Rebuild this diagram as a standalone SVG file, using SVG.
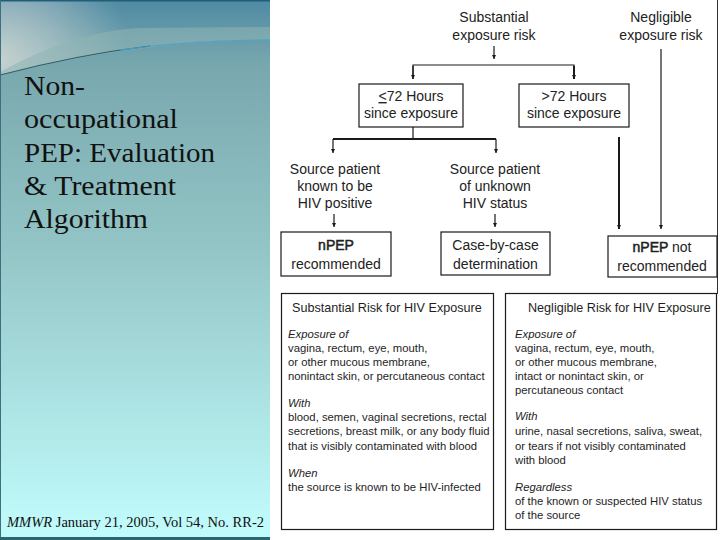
<svg xmlns="http://www.w3.org/2000/svg" width="720" height="540" viewBox="0 0 720 540">
<defs>
<linearGradient id="bg" x1="0" y1="0" x2="0" y2="1">
<stop offset="0" stop-color="#4f8aa3"/>
<stop offset="0.12" stop-color="#78a8ae"/>
<stop offset="0.45" stop-color="#93c4c5"/>
<stop offset="1" stop-color="#c2fdfd"/>
</linearGradient>
<radialGradient id="glow" cx="0" cy="60" r="130" gradientUnits="userSpaceOnUse">
<stop offset="0" stop-color="#d8dcd8" stop-opacity="0.8"/>
<stop offset="1" stop-color="#d8dcd8" stop-opacity="0"/>
</radialGradient>
<marker id="ah" viewBox="0 0 6 6" refX="6" refY="3" markerWidth="4" markerHeight="5" markerUnits="userSpaceOnUse" orient="auto">
<path d="M0,0 L6,3 L0,6 z" fill="#1a1a1a"/>
</marker>
<style>
.t{font-family:"Liberation Sans",Arial,sans-serif;font-size:14px;fill:#222;text-anchor:middle}
.s{font-family:"Liberation Sans",Arial,sans-serif;font-size:11.3px;fill:#1e1e1e}
.h{font-family:"Liberation Sans",Arial,sans-serif;font-size:12.6px;fill:#1e1e1e}
.i{font-style:italic}
.b{stroke:#222;stroke-width:0.5}
.box{fill:#fff;stroke:#1a1a1a;stroke-width:1.2}
.ln{stroke:#1a1a1a;stroke-width:1.2;fill:none}
.thk{stroke-width:2}
.ttl{font-family:"Liberation Serif","Times New Roman",serif;font-size:27px;fill:#111}
.ft{font-family:"Liberation Serif","Times New Roman",serif;font-size:14px;fill:#111}
</style>
</defs>

<!-- left panel -->
<g id="panel">
<rect x="0" y="0" width="270" height="540" fill="url(#bg)"/>
<path d="M0,0 H270 V40 C150,42 70,58 0,75 Z" fill="url(#glow)"/>
<path d="M0,72 C40,50 90,30 140,28 L270,27 L270,40 C150,42 70,58 0,75 Z" fill="#8fb4b4" opacity="0.55"/>
<path d="M0,75 C50,62 100,52 150,46" fill="none" stroke="#1f4a58" stroke-width="1.2" opacity="0.85"/>
<path d="M120,50 C170,43 220,40 270,40" fill="none" stroke="#4aa3c8" stroke-width="1.3" opacity="0.9"/>
<rect x="0" y="0" width="270" height="1.5" fill="#215f78"/>
<rect x="0" y="0" width="1" height="540" fill="#3a7080"/>
<rect x="0" y="537" width="270" height="3" fill="#2e6670"/>
<text class="ttl" x="24" y="95" textLength="61" lengthAdjust="spacingAndGlyphs">Non-</text>
<text class="ttl" x="24" y="128" textLength="154" lengthAdjust="spacingAndGlyphs">occupational</text>
<text class="ttl" x="24" y="162" textLength="191" lengthAdjust="spacingAndGlyphs">PEP: Evaluation</text>
<text class="ttl" x="24" y="195" textLength="152" lengthAdjust="spacingAndGlyphs">&amp; Treatment</text>
<text class="ttl" x="24" y="228" textLength="124" lengthAdjust="spacingAndGlyphs">Algorithm</text>
<text class="ft" x="7" y="527" textLength="257" lengthAdjust="spacingAndGlyphs"><tspan class="i">MMWR</tspan> January 21, 2005, Vol 54, No. RR-2</text>
</g>

<line x1="717.5" y1="0" x2="717.5" y2="294" stroke="#333" stroke-width="1"/>

<!-- connectors -->
<g id="connectors">
<line class="ln" x1="494" y1="46" x2="494" y2="59" marker-end="url(#ah)"/>
<polyline class="ln" points="413,79 413,65 574,65 574,79"/>
<line class="ln" x1="413" y1="66" x2="413" y2="79" marker-end="url(#ah)"/>
<line class="ln thk" x1="574" y1="66" x2="574" y2="79" marker-end="url(#ah)"/>
<line class="ln" x1="413" y1="127" x2="413" y2="139"/>
<line class="ln thk" x1="333" y1="139" x2="496" y2="139"/>
<line class="ln" x1="333" y1="139" x2="333" y2="153" marker-end="url(#ah)"/>
<line class="ln" x1="496" y1="139" x2="496" y2="153" marker-end="url(#ah)"/>
<line class="ln" x1="334" y1="214" x2="334" y2="227" marker-end="url(#ah)"/>
<line class="ln" x1="495" y1="214" x2="495" y2="227" marker-end="url(#ah)"/>
<line class="ln thk" x1="619" y1="137" x2="619" y2="229" marker-end="url(#ah)"/>
<line class="ln" x1="661" y1="49" x2="661" y2="229" marker-end="url(#ah)"/>
</g>

<g id="substantial">
<text class="t" x="494" y="22">Substantial</text>
<text class="t" x="494" y="40">exposure risk</text>
</g>
<g id="negligible">
<text class="t" x="661" y="22">Negligible</text>
<text class="t" x="661" y="40">exposure risk</text>
</g>
<g id="lt72">
<rect class="box" x="359" y="84" width="104" height="43"/>
<text class="t" x="411" y="101"><tspan text-decoration="underline">&lt;</tspan>72 Hours</text>
<text class="t" x="411" y="118">since exposure</text>
</g>
<g id="gt72">
<rect class="box" x="519" y="84" width="110" height="43"/>
<text class="t" x="574" y="101">&gt;72 Hours</text>
<text class="t" x="574" y="118">since exposure</text>
</g>
<g id="known">
<text class="t" x="335" y="174">Source patient</text>
<text class="t" x="335" y="191">known to be</text>
<text class="t" x="335" y="208">HIV positive</text>
</g>
<g id="unknown">
<text class="t" x="495" y="174">Source patient</text>
<text class="t" x="495" y="191">of unknown</text>
<text class="t" x="495" y="208">HIV status</text>
</g>
<g id="recommended">
<rect class="box" x="281" y="232" width="110" height="44"/>
<text class="t b" x="336" y="250">nPEP</text>
<text class="t" x="336" y="269">recommended</text>
</g>
<g id="casebycase">
<rect class="box" x="441" y="232" width="109" height="43"/>
<text class="t" x="495.5" y="250">Case-by-case</text>
<text class="t" x="495.5" y="269">determination</text>
</g>
<g id="notrecommended">
<rect class="box" x="608" y="236" width="109" height="41"/>
<text class="t" x="662" y="252"><tspan class="b">nPEP</tspan> not</text>
<text class="t" x="662" y="271">recommended</text>
</g>

<g id="substantialRisk">
<rect class="box" x="281.5" y="293.5" width="212" height="236"/>
<text class="h" x="292" y="312">Substantial Risk for HIV Exposure</text>
<text class="s i" x="288" y="338">Exposure of</text>
<text class="s" x="288" y="352">vagina, rectum, eye, mouth,</text>
<text class="s" x="288" y="366">or other mucous membrane,</text>
<text class="s" x="288" y="380">nonintact skin, or percutaneous contact</text>
<text class="s i" x="288" y="407">With</text>
<text class="s" x="288" y="421">blood, semen, vaginal secretions, rectal</text>
<text class="s" x="288" y="435">secretions, breast milk, or any body fluid</text>
<text class="s" x="288" y="450">that is visibly contaminated with blood</text>
<text class="s i" x="288" y="477">When</text>
<text class="s" x="288" y="491">the source is known to be HIV-infected</text>
</g>

<g id="negligibleRisk">
<rect class="box" x="505.5" y="293.5" width="211" height="236"/>
<text class="h" x="528" y="312">Negligible Risk for HIV Exposure</text>
<text class="s i" x="515" y="338">Exposure of</text>
<text class="s" x="515" y="352">vagina, rectum, eye, mouth,</text>
<text class="s" x="515" y="366">or other mucous membrane,</text>
<text class="s" x="515" y="380">intact or nonintact skin, or</text>
<text class="s" x="515" y="394">percutaneous contact</text>
<text class="s i" x="515" y="420">With</text>
<text class="s" x="515" y="435">urine, nasal secretions, saliva, sweat,</text>
<text class="s" x="515" y="450">or tears if not visibly contaminated</text>
<text class="s" x="515" y="464">with blood</text>
<text class="s i" x="515" y="491">Regardless</text>
<text class="s" x="515" y="505">of the known or suspected HIV status</text>
<text class="s" x="515" y="519">of the source</text>
</g>
</svg>
